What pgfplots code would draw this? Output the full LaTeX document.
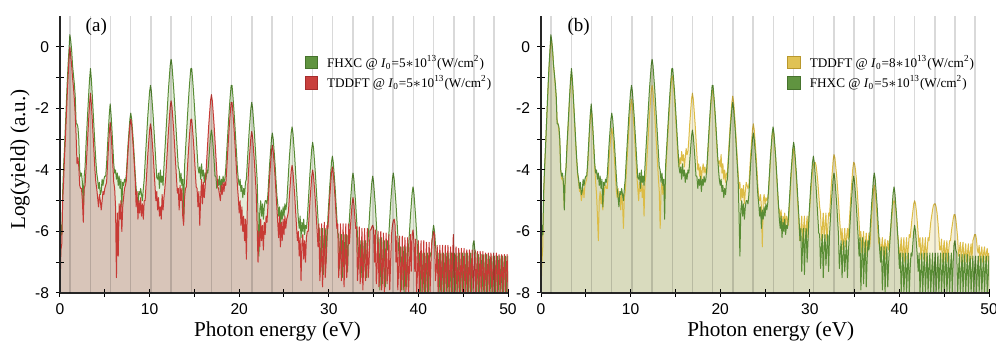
\documentclass[border=0pt]{standalone}
\usepackage{fontspec}
\setmainfont{Liberation Serif}
\setsansfont{Liberation Sans}
\usepackage{pgfplots}
\pgfplotsset{compat=1.18}
\usepackage{pgfplotstable}

\definecolor{lnG}{RGB}{88,140,52}
\definecolor{lnR}{RGB}{199,58,53}
\definecolor{lnY}{RGB}{220,188,70}
\definecolor{fGa}{RGB}{228,237,218}
\definecolor{fRa}{RGB}{216,197,185}
\definecolor{fYb}{RGB}{247,241,214}
\definecolor{fGb}{RGB}{217,219,190}
\definecolor{swG}{RGB}{96,148,64}
\definecolor{swGd}{RGB}{70,115,45}
\definecolor{swR}{RGB}{201,64,61}
\definecolor{swRd}{RGB}{165,45,45}
\definecolor{swY}{RGB}{224,194,84}
\definecolor{swYd}{RGB}{185,152,45}

% E = photon energy (eV); G = FHXC 5e13; R = TDDFT 5e13; Y = TDDFT 8e13 (log yield)
\pgfplotstableread{
E G R Y
0.0 -8 -8 -8
0.1 -5.8 -6.6 -7.0
0.2 -6.1 -6.4 -6.5
0.3 -4.7 -5.0 -4.8
0.4 -3.9 -4.4 -4.0
0.5 -3.3 -3.6 -3.3
0.6 -2.6 -3.0 -2.6
0.7 -1.9 -2.3 -1.9
0.8 -1.2 -1.6 -1.3
0.9 -0.6 -1.0 -0.7
1.0 -0.1 -0.4 -0.2
1.1 0.4 0.0 0.3
1.2 0.2 -0.3 0.1
1.3 -0.1 -0.6 -0.2
1.4 -0.6 -1.0 -0.6
1.5 -0.9 -1.3 -0.9
1.6 -1.2 -1.7 -1.3
1.7 -1.6 -2.2 -1.7
1.8 -2.5 -2.9 -2.4
1.9 -2.5 -3.8 -2.5
2.0 -2.6 -3.6 -2.7
2.1 -3.0 -3.9 -3.1
2.2 -4.0 -4.5 -4.0
2.3 -4.2 -4.6 -4.3
2.4 -4.1 -4.6 -4.2
2.5 -4.4 -5.0 -4.5
2.6 -5.3 -5.7 -5.2
2.7 -4.2 -4.6 -4.3
2.8 -3.9 -4.5 -3.9
2.9 -3.2 -4.0 -3.3
3.0 -2.65 -3.45 -2.75
3.1 -2.1 -2.9 -2.2
3.2 -1.55 -2.35 -1.65
3.3 -1.05 -1.85 -1.15
3.4 -0.7 -1.5 -0.8
3.5 -1.05 -1.85 -1.15
3.6 -1.55 -2.35 -1.65
3.7 -2.1 -2.9 -2.2
3.8 -2.65 -3.45 -2.75
3.9 -3.2 -4.0 -3.3
4.0 -3.7 -4.4 -3.8
4.1 -4.1 -4.6 -4.2
4.2 -4.3 -4.9 -4.4
4.3 -4.6 -5.2 -4.7
4.4 -4.4 -4.8 -4.6
4.5 -4.8 -5.0 -5.0
4.6 -4.7 -5.3 -4.8
4.7 -4.3 -5.0 -4.6
4.8 -4.5 -4.7 -4.9
4.9 -4.3 -4.8 -4.5
5.0 -4.2 -4.6 -4.4
5.1 -4.2 -4.5 -4.3
5.2 -3.8 -4.4 -3.95
5.3 -3.25 -3.85 -3.4
5.4 -2.7 -3.3 -2.85
5.5 -2.2 -2.8 -2.35
5.6 -1.85 -2.45 -2.0
5.7 -2.2 -2.8 -2.35
5.8 -2.7 -3.3 -2.85
5.9 -3.25 -3.85 -3.4
6.0 -3.8 -4.4 -3.95
6.1 -4.1 -4.6 -4.4
6.2 -4.0 -5.2 -4.8
6.3 -4.3 -7.5 -5.5
6.4 -4.1 -5.4 -6.3
6.5 -4.5 -6.8 -5.0
6.6 -4.2 -5.1 -4.7
6.7 -4.6 -5.6 -5.1
6.8 -4.3 -5.0 -4.8
6.9 -5.2 -6.0 -5.3
7.0 -4.4 -5.2 -4.9
7.1 -4.5 -4.9 -4.6
7.2 -4.3 -4.6 -4.5
7.3 -4.4 -4.5 -4.6
7.4 -4.15 -4.35 -4.6
7.5 -3.65 -3.85 -4.15
7.6 -3.15 -3.35 -3.65
7.7 -2.75 -2.95 -3.25
7.8 -2.35 -2.55 -2.85
7.9 -2.15 -2.35 -2.65
8.0 -2.35 -2.55 -2.85
8.1 -2.75 -2.95 -3.25
8.2 -3.15 -3.35 -3.65
8.3 -3.65 -3.85 -4.15
8.4 -4.15 -4.35 -4.65
8.5 -4.6 -5.2 -4.9
8.6 -4.9 -4.7 -4.6
8.7 -5.2 -5.6 -5.0
8.8 -4.7 -5.0 -4.8
8.9 -4.8 -5.4 -5.3
9.0 -4.6 -4.9 -4.7
9.1 -4.8 -5.5 -5.1
9.2 -5.0 -5.1 -5.9
9.3 -4.6 -5.6 -4.9
9.4 -4.3 -5.0 -4.7
9.5 -3.75 -5.0 -4.2
9.6 -3.25 -4.5 -3.7
9.7 -2.75 -4.0 -3.2
9.8 -2.25 -3.5 -2.7
9.9 -1.85 -3.1 -2.3
10.0 -1.45 -2.7 -1.9
10.1 -1.25 -2.5 -1.7
10.2 -1.45 -2.7 -1.9
10.3 -1.85 -3.1 -2.3
10.4 -2.25 -3.5 -2.7
10.5 -2.75 -4.0 -3.2
10.6 -3.25 -4.5 -3.7
10.7 -3.75 -5.0 -4.2
10.8 -4.25 -4.7 -4.6
10.9 -4.3 -5.3 -5.0
11.0 -4.1 -4.9 -4.4
11.1 -4.6 -5.5 -4.7
11.2 -4.0 -5.2 -4.3
11.3 -4.4 -5.6 -4.9
11.4 -4.2 -4.8 -4.5
11.5 -4.5 -5.3 -5.5
11.6 -3.9 -4.9 -4.4
11.7 -3.4 -4.6 -4.2
11.8 -2.9 -4.25 -3.75
11.9 -2.4 -3.75 -3.25
12.0 -1.9 -3.25 -2.75
12.1 -1.4 -2.75 -2.25
12.2 -1.0 -2.35 -1.85
12.3 -0.6 -1.95 -1.45
12.4 -0.4 -1.75 -1.25
12.5 -0.6 -1.95 -1.45
12.6 -1.0 -2.35 -1.85
12.7 -1.4 -2.75 -2.25
12.8 -1.9 -3.25 -2.75
12.9 -2.4 -3.75 -3.25
13.0 -2.9 -4.25 -3.75
13.1 -3.4 -4.75 -4.25
13.2 -3.9 -4.6 -4.7
13.3 -4.0 -5.3 -5.9
13.4 -4.4 -4.5 -4.7
13.5 -4.1 -5.0 -4.4
13.6 -4.5 -4.6 -4.8
13.7 -4.3 -5.5 -4.5
13.8 -5.6 -5.8 -5.0
13.9 -3.9 -4.9 -4.15
14.0 -3.4 -4.6 -3.65
14.1 -2.9 -4.55 -3.15
14.2 -2.4 -4.05 -2.65
14.3 -1.9 -3.55 -2.15
14.4 -1.45 -3.1 -1.7
14.5 -1.05 -2.7 -1.3
14.6 -0.7 -2.35 -0.95
14.7 -0.7 -2.35 -0.95
14.8 -1.05 -2.7 -1.3
14.9 -1.45 -3.1 -1.7
15.0 -1.9 -3.55 -2.15
15.1 -2.4 -4.05 -2.65
15.2 -2.9 -4.55 -3.15
15.3 -3.4 -4.6 -3.65
15.4 -3.9 -5.2 -3.9
15.5 -4.1 -4.7 -3.6
15.6 -3.9 -5.8 -3.8
15.7 -4.3 -4.9 -3.4
15.8 -3.8 -4.3 -3.7
15.9 -4.2 -5.1 -3.5
16.0 -4.0 -4.4 -3.9
16.1 -4.4 -4.9 -3.6
16.2 -4.1 -4.55 -3.3
16.3 -4.3 -4.05 -3.5
16.4 -4.0 -3.55 -3.4
16.5 -4.1 -3.05 -3.0
16.6 -3.7 -2.55 -2.5
16.7 -3.3 -2.15 -2.1
16.8 -2.9 -1.75 -1.7
16.9 -2.7 -1.55 -1.5
17.0 -2.9 -1.75 -1.7
17.1 -3.3 -2.15 -2.1
17.2 -3.7 -2.55 -2.5
17.3 -4.2 -3.05 -3.0
17.4 -4.2 -3.55 -3.5
17.5 -4.6 -4.05 -4.0
17.6 -4.3 -4.55 -3.8
17.7 -4.5 -4.6 -4.2
17.8 -4.2 -4.8 -3.9
17.9 -4.7 -5.0 -4.3
18.0 -4.3 -4.5 -4.0
18.1 -4.5 -4.8 -3.8
18.2 -4.2 -4.4 -4.1
18.3 -4.4 -4.7 -3.9
18.4 -4.3 -4.4 -4.1
18.5 -3.95 -4.5 -4.1
18.6 -3.45 -4.0 -3.6
18.7 -2.95 -3.5 -3.1
18.8 -2.45 -3.0 -2.6
18.9 -2.0 -2.55 -2.15
19.0 -1.6 -2.15 -1.75
19.1 -1.25 -1.8 -1.4
19.2 -1.25 -1.8 -1.4
19.3 -1.6 -2.15 -1.75
19.4 -2.0 -2.55 -2.15
19.5 -2.45 -3.0 -2.6
19.6 -2.95 -3.5 -3.1
19.7 -3.45 -4.0 -3.6
19.8 -3.95 -4.5 -3.8
19.9 -4.3 -4.9 -3.7
20.0 -4.5 -5.4 -3.9
20.1 -4.3 -5.0 -3.5
20.2 -4.7 -5.8 -4.1
20.3 -4.5 -5.2 -3.8
20.4 -4.9 -6.0 -4.3
20.5 -4.6 -5.5 -4.0
20.6 -4.8 -6.3 -4.4
20.7 -4.4 -5.6 -4.1
20.8 -4.3 -6.9 -4.1
20.9 -3.8 -5.3 -3.6
21.0 -3.3 -4.25 -3.1
21.1 -2.8 -3.75 -2.6
21.2 -2.4 -3.35 -2.2
21.3 -2.0 -2.95 -1.8
21.4 -1.8 -2.75 -1.6
21.5 -2.0 -2.95 -1.8
21.6 -2.4 -3.35 -2.2
21.7 -2.8 -3.75 -2.6
21.8 -3.3 -4.25 -3.1
21.9 -3.8 -4.75 -3.6
22.0 -4.3 -5.8 -4.1
22.1 -5.4 -7.0 -4.6
22.2 -6.8 -6.0 -4.4
22.3 -5.3 -6.5 -5.0
22.4 -5.0 -5.6 -4.6
22.5 -5.5 -6.3 -4.9
22.6 -5.1 -5.8 -4.5
22.7 -5.6 -6.6 -5.1
22.8 -5.2 -5.7 -4.7
22.9 -5.0 -6.1 -4.4
23.0 -5.0 -5.5 -4.5
23.1 -5.1 -5.7 -4.6
23.2 -4.8 -5.2 -4.5
23.3 -4.3 -4.7 -4.0
23.4 -3.8 -4.2 -3.5
23.5 -3.4 -3.8 -3.1
23.6 -3.0 -3.4 -2.7
23.7 -2.8 -3.2 -2.5
23.8 -3.0 -3.4 -2.7
23.9 -3.4 -3.8 -3.1
24.0 -3.8 -4.2 -3.5
24.1 -4.3 -4.7 -4.0
24.2 -4.8 -5.2 -4.5
24.3 -5.1 -5.7 -4.9
24.4 -5.5 -6.2 -5.0
24.5 -5.2 -5.5 -4.8
24.6 -5.9 -6.5 -5.2
24.7 -5.3 -5.7 -6.5
24.8 -5.6 -6.3 -5.0
24.9 -5.2 -5.6 -4.8
25.0 -5.5 -6.1 -5.1
25.1 -5.1 -5.5 -4.9
25.2 -5.3 -5.9 -5.0
25.3 -5.1 -5.6 -4.9
25.4 -4.6 -5.5 -4.7
25.5 -4.1 -5.35 -4.2
25.6 -3.6 -4.85 -3.7
25.7 -3.2 -4.45 -3.3
25.8 -2.8 -4.05 -2.9
25.9 -2.6 -3.85 -2.7
26.0 -2.8 -4.05 -2.9
26.1 -3.2 -4.45 -3.3
26.2 -3.6 -4.85 -3.7
26.3 -4.1 -5.35 -4.2
26.4 -4.6 -5.85 -4.7
26.5 -5.1 -6.3 -5.2
26.6 -5.6 -6.0 -5.3
26.7 -5.9 -6.8 -5.6
26.8 -5.5 -6.2 -5.3
26.9 -6.2 -7.6 -6.0
27.0 -5.7 -6.4 -5.5
27.1 -6.0 -6.1 -5.8
27.2 -5.6 -6.9 -5.4
27.3 -6.1 -6.3 -5.9
27.4 -5.8 -7.0 -5.5
27.5 -5.9 -6.2 -5.6
27.6 -5.6 -6.0 -5.8
27.7 -5.1 -6.0 -5.3
27.8 -4.6 -5.5 -4.8
27.9 -4.1 -5.0 -4.3
28.0 -3.7 -4.6 -3.9
28.1 -3.3 -4.2 -3.5
28.2 -3.1 -4.0 -3.3
28.3 -3.3 -4.2 -3.5
28.4 -3.7 -4.6 -3.9
28.5 -4.1 -5.0 -4.3
28.6 -4.6 -5.5 -4.8
28.7 -5.1 -6.0 -5.3
28.8 -5.6 -6.5 -5.8
28.9 -6.3 -5.75 -6.3
29.0 -5.9 -7.6 -5.9
29.1 -7.3 -7.0 -5.5
29.2 -6.4 -5.75 -6.4
29.3 -5.9 -7.8 -5.9
29.4 -7.4 -6.9 -5.5
29.5 -6.3 -5.7 -6.3
29.6 -5.9 -7.5 -5.9
29.7 -7.0 -7.0 -5.5
29.8 -6.3 -5.8 -6.2
29.9 -5.55 -5.9 -5.6
30.0 -5.05 -5.4 -5.2
30.1 -4.55 -4.9 -4.8
30.2 -4.15 -4.5 -4.4
30.3 -3.75 -4.1 -4.05
30.4 -3.55 -3.9 -3.85
30.5 -3.75 -4.1 -3.75
30.6 -4.15 -4.5 -3.75
30.7 -4.55 -4.9 -3.85
30.8 -5.05 -5.4 -4.1
30.9 -5.55 -5.9 -4.4
31.0 -6.05 -5.75 -4.8
31.1 -6.1 -7.5 -5.2
31.2 -7.2 -6.9 -5.4
31.3 -6.5 -5.75 -6.3
31.4 -6.1 -7.6 -5.9
31.5 -7.5 -7.0 -5.4
31.6 -6.5 -5.75 -6.2
31.7 -6.1 -7.8 -5.8
31.8 -7.1 -6.9 -5.4
31.9 -6.5 -5.75 -6.3
32.0 -6.1 -7.5 -5.9
32.1 -7.3 -7.0 -5.4
32.2 -6.1 -5.75 -5.5
32.3 -5.6 -6.4 -5.0
32.4 -5.1 -5.9 -4.5
32.5 -4.7 -5.5 -4.1
32.6 -4.3 -5.1 -3.7
32.7 -4.1 -4.9 -3.5
32.8 -4.3 -5.1 -3.6
32.9 -4.7 -5.5 -3.9
33.0 -5.1 -5.9 -4.2
33.1 -5.6 -5.85 -4.6
33.2 -6.1 -7.6 -5.0
33.3 -7.2 -7.0 -5.5
33.4 -6.7 -5.85 -5.9
33.5 -6.3 -7.7 -6.3
33.6 -7.5 -7.1 -5.9
33.7 -6.8 -5.9 -6.6
33.8 -6.3 -7.9 -6.3
33.9 -7.3 -7.0 -5.9
34.0 -6.8 -5.9 -6.5
34.1 -6.3 -7.6 -6.2
34.2 -7.5 -7.2 -5.9
34.3 -6.7 -5.9 -6.25
34.4 -6.2 -7.5 -5.75
34.5 -5.7 -7.0 -5.25
34.6 -5.2 -5.95 -4.75
34.7 -4.8 -5.95 -4.35
34.8 -4.4 -5.85 -3.95
34.9 -4.2 -5.8 -3.75
35.0 -4.4 -5.9 -3.8
35.1 -4.8 -7.0 -4.0
35.2 -5.2 -5.95 -4.3
35.3 -5.7 -7.7 -4.7
35.4 -6.2 -7.1 -5.2
35.5 -6.8 -6.0 -5.7
35.6 -6.2 -7.8 -6.3
35.7 -7.9 -7.2 -6.0
35.8 -6.9 -6.0 -6.7
35.9 -6.2 -7.9 -6.4
36.0 -7.7 -7.1 -6.0
36.1 -6.9 -6.05 -6.7
36.2 -6.3 -8.0 -6.4
36.3 -7.8 -7.2 -6.05
36.4 -6.9 -6.05 -6.8
36.5 -6.3 -7.7 -6.4
36.6 -6.6 -7.3 -6.05
36.7 -6.1 -6.1 -6.5
36.8 -5.6 -7.9 -6.0
36.9 -5.1 -7.0 -5.5
37.0 -4.7 -6.1 -5.1
37.1 -4.3 -5.8 -4.7
37.2 -4.1 -5.65 -4.5
37.3 -4.3 -5.6 -4.7
37.4 -4.7 -5.8 -5.1
37.5 -5.1 -7.0 -5.5
37.6 -5.6 -6.15 -6.0
37.7 -6.1 -7.9 -6.4
37.8 -6.6 -7.2 -6.2
37.9 -7.0 -6.15 -6.8
38.0 -6.5 -8.0 -6.5
38.1 -7.9 -7.3 -6.2
38.2 -7.1 -6.15 -6.8
38.3 -6.5 -7.9 -6.5
38.4 -8.0 -7.2 -6.25
38.5 -7.0 -6.2 -6.9
38.6 -6.5 -8.0 -6.5
38.7 -7.8 -7.3 -6.3
38.8 -7.0 -6.2 -6.6
38.9 -6.5 -8.0 -6.3
39.0 -6.05 -7.2 -6.0
39.1 -5.55 -6.1 -5.7
39.2 -5.15 -7.3 -5.4
39.3 -4.75 -6.1 -5.1
39.4 -4.55 -5.95 -5.0
39.5 -4.75 -6.3 -5.05
39.6 -5.15 -7.3 -5.3
39.7 -5.55 -6.25 -5.7
39.8 -6.05 -8.0 -6.1
39.9 -6.55 -7.3 -6.3
40.0 -7.2 -6.3 -6.9
40.1 -6.7 -8.0 -6.6
40.2 -8.0 -7.2 -6.2
40.3 -7.2 -6.3 -6.9
40.4 -6.7 -8.0 -6.6
40.5 -8.0 -7.4 -6.2
40.6 -7.3 -6.3 -7.0
40.7 -6.7 -8.0 -6.6
40.8 -8.0 -7.2 -6.2
40.9 -7.2 -6.35 -6.9
41.0 -6.7 -8.0 -6.5
41.1 -8.0 -7.3 -6.1
41.2 -7.2 -6.35 -6.2
41.3 -6.7 -8.0 -5.9
41.4 -6.8 -7.0 -5.6
41.5 -6.4 -6.3 -5.35
41.6 -6.0 -6.2 -5.1
41.7 -5.8 -6.0 -5.0
41.8 -6.0 -6.1 -5.1
41.9 -6.4 -7.6 -5.35
42.0 -6.8 -7.2 -5.7
42.1 -7.3 -6.45 -6.1
42.2 -6.7 -8.0 -6.5
42.3 -8.0 -7.3 -6.2
42.4 -7.3 -6.45 -6.9
42.5 -6.7 -8.0 -6.5
42.6 -8.0 -7.2 -6.2
42.7 -7.2 -6.45 -6.9
42.8 -6.7 -8.0 -6.6
42.9 -8.0 -7.4 -6.2
43.0 -7.3 -6.45 -7.0
43.1 -6.7 -8.0 -6.6
43.2 -8.0 -7.2 -6.2
43.3 -7.2 -6.45 -6.3
43.4 -6.7 -8.0 -6.0
43.5 -8.0 -7.3 -5.7
43.6 -7.3 -6.5 -5.5
43.7 -6.7 -8.0 -5.3
43.8 -8.0 -7.0 -5.15
43.9 -7.2 -6.1 -5.1
44.0 -6.7 -8.0 -5.1
44.1 -8.0 -7.3 -5.2
44.2 -7.3 -6.5 -5.4
44.3 -6.7 -8.0 -5.7
44.4 -8.0 -7.4 -6.1
44.5 -7.2 -6.55 -6.6
44.6 -6.7 -8.0 -6.6
44.7 -8.0 -7.3 -6.25
44.8 -7.3 -6.55 -7.0
44.9 -6.7 -8.0 -6.6
45.0 -8.0 -7.2 -6.3
45.1 -7.2 -6.55 -7.0
45.2 -6.7 -8.0 -6.6
45.3 -8.0 -7.4 -6.3
45.4 -7.3 -6.6 -7.0
45.5 -6.7 -8.0 -6.6
45.6 -8.0 -7.3 -6.3
45.7 -7.2 -6.6 -6.3
45.8 -6.7 -8.0 -6.0
45.9 -8.0 -7.2 -5.8
46.0 -7.0 -6.6 -5.6
46.1 -6.4 -8.0 -5.45
46.2 -6.3 -7.3 -5.45
46.3 -6.6 -6.6 -5.6
46.4 -6.7 -8.0 -5.9
46.5 -8.0 -7.3 -6.2
46.6 -7.3 -6.65 -6.8
46.7 -6.75 -8.0 -6.6
46.8 -8.0 -7.4 -6.35
46.9 -7.3 -6.65 -7.0
47.0 -6.75 -8.0 -6.6
47.1 -8.0 -7.2 -6.35
47.2 -7.2 -6.65 -7.0
47.3 -6.75 -8.0 -6.7
47.4 -8.0 -7.4 -6.4
47.5 -7.3 -6.7 -7.0
47.6 -6.75 -8.0 -6.7
47.7 -8.0 -7.3 -6.4
47.8 -7.2 -6.7 -7.0
47.9 -6.8 -8.0 -6.7
48.0 -8.0 -7.2 -6.4
48.1 -7.3 -6.7 -6.9
48.2 -6.8 -8.0 -6.3
48.3 -8.0 -7.4 -6.2
48.4 -7.2 -6.7 -6.1
48.5 -6.8 -8.0 -6.1
48.6 -8.0 -7.3 -6.25
48.7 -7.3 -6.7 -6.6
48.8 -6.8 -8.0 -6.7
48.9 -8.0 -7.3 -6.45
49.0 -7.2 -6.75 -7.0
49.1 -6.8 -8.0 -6.7
49.2 -8.0 -7.4 -6.5
49.3 -7.3 -6.75 -7.0
49.4 -6.8 -8.0 -6.7
49.5 -8.0 -7.3 -6.5
49.6 -7.2 -6.75 -7.0
49.7 -6.8 -8.0 -6.7
49.8 -8.0 -7.3 -6.55
49.9 -7.3 -6.75 -7.0
50.0 -6.8 -8.0 -6.7
50.05 -8 -8 -8
}\spec

\pgfplotsset{
  hhg/.style={
    scale only axis, width=224pt, height=138.4pt,
    xmin=0, xmax=50, ymin=-8, ymax=1,
    axis lines*=left,
    axis line style={black!85, line width=0.6pt},
    axis on top,
    xtick={0,5,...,50}, xticklabels={0,,10,,20,,30,,40,,50},
    ytick={-8,-7,...,0}, yticklabels={-8,,-6,,-4,,-2,,0},
    tick align=center, major tick length=4pt,
    tick style={black, line width=0.5pt},
    tick label style={font=\fontsize{7.8}{9}\sffamily},
    extra x ticks={1.127,3.381,5.635,7.889,10.143,12.397,14.651,16.905,19.159,21.413,23.667,25.921,28.175,30.429,32.683,34.937,37.191,39.445,41.699,43.953,46.207,48.461},
    extra x tick labels={},
    extra x tick style={grid=major, major tick length=0pt, major grid style={black, opacity=0.15, line width=0.75pt}},
    label style={font=\fontsize{10.6}{12}\selectfont},
    xlabel={Photon energy (eV)},
    legend style={draw=none, fill=none, font=\fontsize{6.6}{8}\selectfont, anchor=north west, row sep=-1.5pt, inner sep=0pt},
    legend cell align=left,
    legend image code/.code={\draw[##1, line width=0.5pt] (0pt,-3.1pt) rectangle (6.3pt,3.2pt); \path[draw=none, fill=none] (0pt,0pt) -- (9pt,0pt);},
  }
}

\begin{document}
\begin{tikzpicture}
\useasboundingbox (-30pt,-24pt) rectangle (468pt,146.5pt);
% ---------------- panel (a)
\begin{axis}[hhg, at={(0pt,0pt)}, anchor=south west,
  ylabel={Log(yield) (a.u.)},
  ylabel style={at={(axis description cs:-0.089,0.482)}, anchor=center},
  xlabel style={at={(axis description cs:0.4855,0)}, anchor=base, yshift=-22pt},
  legend style={at={(axis description cs:0.545,0.875)}}]
\addplot[draw=none, fill=fGa, forget plot] table[x=E,y=G]{\spec};
\addplot[draw=none, fill=fRa, forget plot] table[x=E,y=R]{\spec};
\addplot[lnG, line width=0.5pt, line join=round, forget plot] table[x=E,y=G]{\spec};
\addplot[lnR, line width=0.5pt, line join=round, forget plot] table[x=E,y=R]{\spec};
\addlegendimage{fill=swG, draw=swGd}
\addlegendentry{FHXC @ \textit{I}\textsubscript{0}=5\(\ast\)10\textsuperscript{13}(W/cm\textsuperscript{2})}
\addlegendimage{fill=swR, draw=swRd}
\addlegendentry{TDDFT @ \textit{I}\textsubscript{0}=5\(\ast\)10\textsuperscript{13}(W/cm\textsuperscript{2})}
\node[font=\fontsize{9.5}{11}\selectfont] at (axis description cs:0.081,0.962) {(a)};
\end{axis}
% ---------------- panel (b)
\begin{axis}[hhg, at={(240.5pt,0pt)}, anchor=south west,
  xlabel style={at={(axis description cs:0.513,0)}, anchor=base, yshift=-22pt},
  legend style={at={(axis description cs:0.549,0.875)}}]
\addplot[draw=none, fill=fYb, forget plot] table[x=E,y=Y]{\spec};
\addplot[draw=none, fill=fGb, forget plot] table[x=E,y=G]{\spec};
\addplot[lnY, line width=0.5pt, line join=round, forget plot] table[x=E,y=Y]{\spec};
\addplot[lnG, line width=0.5pt, line join=round, forget plot] table[x=E,y=G]{\spec};
\addlegendimage{fill=swY, draw=swYd}
\addlegendentry{TDDFT @ \textit{I}\textsubscript{0}=8\(\ast\)10\textsuperscript{13}(W/cm\textsuperscript{2})}
\addlegendimage{fill=swG, draw=swGd}
\addlegendentry{FHXC @ \textit{I}\textsubscript{0}=5\(\ast\)10\textsuperscript{13}(W/cm\textsuperscript{2})}
\node[font=\fontsize{9.5}{11}\selectfont] at (axis description cs:0.084,0.962) {(b)};
\end{axis}
\end{tikzpicture}
\end{document}
